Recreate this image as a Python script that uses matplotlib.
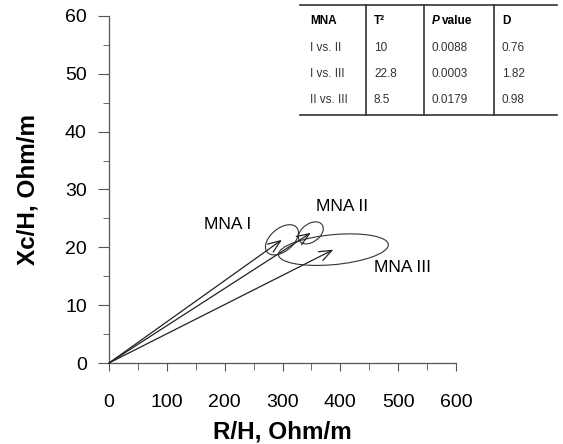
import matplotlib
matplotlib.use("Agg")
import matplotlib.pyplot as plt
from matplotlib.patches import Ellipse
from matplotlib.lines import Line2D
from matplotlib.ticker import MultipleLocator

plt.rcParams['font.family'] = ['Liberation Sans', 'DejaVu Sans']

# group centres (mean vectors) and confidence ellipses
groups = ['MNA I', 'MNA II', 'MNA III']
r_mean = [299, 349, 388]
xc_mean = [21.3, 22.5, 19.6]
ell_w = [57, 43, 190]
ell_h = [4.6, 3.5, 5.2]
ell_ang = [0.25, 0.2, 0.05]
label_x = [165, 358, 458]
label_y = [24.0, 27.0, 16.5]

# Hotelling test table
tab_header = ['MNA', 'T²', 'P value', 'D']
tab_pairs = ['I vs. II', 'I vs. III', 'II vs. III']
tab_t2 = ['10', '22.8', '8.5']
tab_p = ['0.0088', '0.0003', '0.0179']
tab_d = ['0.76', '1.82', '0.98']

W, H = 563, 444
fig = plt.figure(figsize=(W / 100, H / 100), dpi=100)
ax = fig.add_axes([109 / W, 1 - 363 / H, 347 / W, 347 / H])

for i in range(len(groups)):
    ax.add_patch(Ellipse((r_mean[i], xc_mean[i]), ell_w[i], ell_h[i], angle=ell_ang[i] * 10,
                         fill=False, lw=0.8, ec='#333333'))
    ax.annotate('', xy=(r_mean[i], xc_mean[i]), xytext=(0, 0),
                arrowprops=dict(arrowstyle='->,head_length=0.9,head_width=0.35',
                                lw=0.9, color='#222222', shrinkA=0, shrinkB=0))
    ax.text(label_x[i], label_y[i], groups[i], fontsize=12.5, ha='left', va='center')

ax.set_xlim(0, 600)
ax.set_ylim(0, 60)
ax.xaxis.set_major_locator(MultipleLocator(100))
ax.xaxis.set_minor_locator(MultipleLocator(50))
ax.yaxis.set_major_locator(MultipleLocator(10))
ax.yaxis.set_minor_locator(MultipleLocator(5))
ax.spines['top'].set_visible(False)
ax.spines['right'].set_visible(False)
for s in ['left', 'bottom']:
    ax.spines[s].set_color('#555555')
    ax.spines[s].set_linewidth(0.9)
ax.tick_params(axis='both', which='major', labelsize=14, direction='out', color='#555555')
ax.tick_params(axis='x', which='major', length=6, pad=16)
ax.tick_params(axis='x', which='minor', length=5, color='#555555')
ax.tick_params(axis='y', which='major', length=8, pad=8)
ax.tick_params(axis='y', which='minor', length=4, color='#555555')
ax.set_xlabel('R/H, Ohm/m', fontsize=17.5, fontweight='bold', labelpad=7)
ax.set_ylabel('Xc/H, Ohm/m', fontsize=17.5, fontweight='bold', labelpad=18)

# table drawn in pixel-based figure coordinates
def fx(px):
    return px / W

def fy(py):
    return 1 - py / H

col_x = [300, 366, 424, 494, 557]
row_y = [21, 48, 74, 100]
top, bot = 5, 115
lc = '#333333'
fig.add_artist(Line2D([fx(300), fx(557)], [fy(top), fy(top)], color=lc, lw=1.2))
fig.add_artist(Line2D([fx(300), fx(557)], [fy(bot), fy(bot)], color=lc, lw=1.2))
for cx in col_x[1:-1]:
    fig.add_artist(Line2D([fx(cx), fx(cx)], [fy(top), fy(bot)], color=lc, lw=1.2))

ts = 8.5
fig.text(fx(col_x[0] + 10), fy(row_y[0]), tab_header[0], fontsize=ts, fontweight='bold', va='center')
fig.text(fx(col_x[1] + 8), fy(row_y[0]), tab_header[1], fontsize=ts, fontweight='bold', va='center')
fig.text(fx(col_x[2] + 8), fy(row_y[0]), 'P', fontsize=ts, fontweight='bold', style='italic', va='center')
fig.text(fx(col_x[2] + 18), fy(row_y[0]), 'value', fontsize=ts, fontweight='bold', va='center')
fig.text(fx(col_x[3] + 8), fy(row_y[0]), tab_header[3], fontsize=ts, fontweight='bold', va='center')
cols = [tab_pairs, tab_t2, tab_p, tab_d]
for j, col in enumerate(cols):
    for i, val in enumerate(col):
        fig.text(fx(col_x[j] + (10 if j == 0 else 8)), fy(row_y[i + 1]), val, fontsize=ts,
                 va='center', color='#333333')

fig.savefig('out.png', dpi=100)
